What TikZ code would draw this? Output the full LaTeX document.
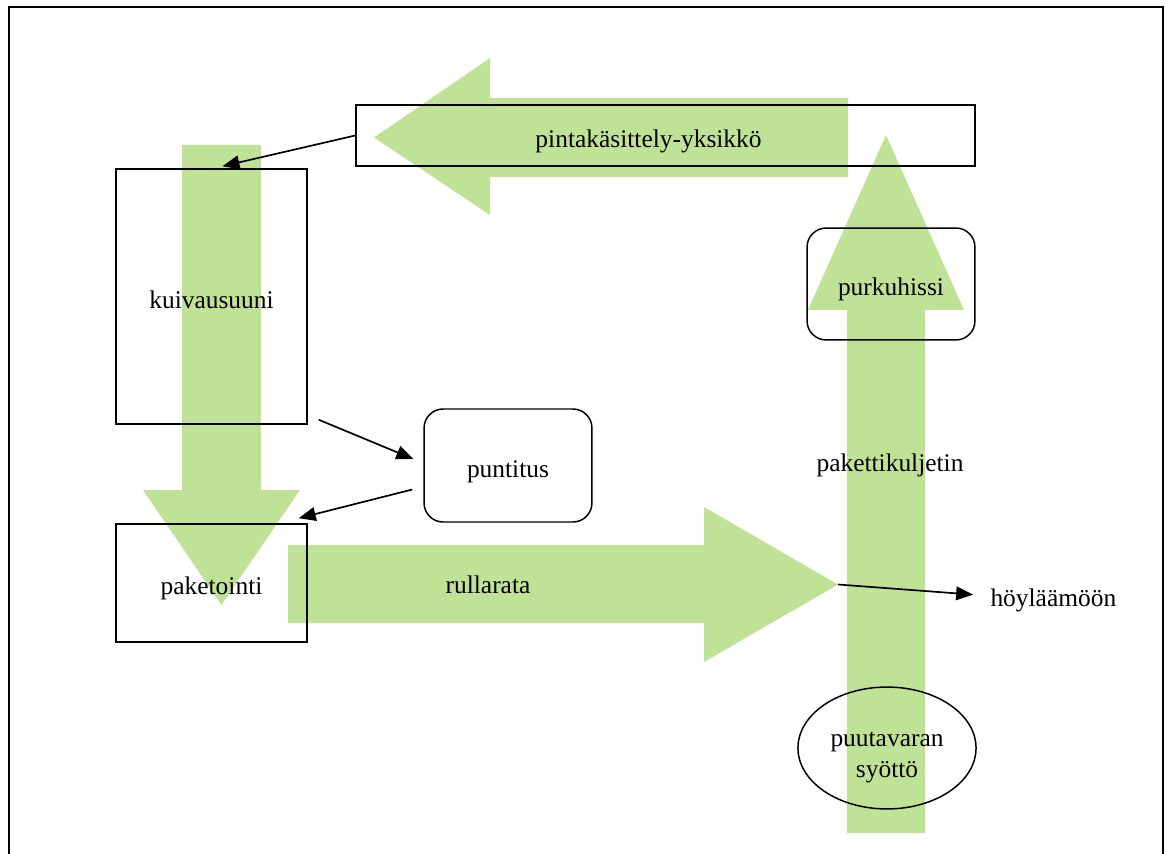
\documentclass[tikz,border=0pt]{standalone}
\usepackage{fontspec}
\setmainfont{Liberation Serif}
\usetikzlibrary{arrows.meta, shapes.geometric, calc}
\definecolor{beltgreen}{RGB}{192,226,151}
\tikzset{
  sawbox/.style={rectangle, draw=black, line width=0.7pt, align=center,
                 inner sep=0pt, text height=11pt, text depth=0pt,
                 font=\fontsize{12}{14.4}\selectfont},
  sawround/.style={sawbox, rounded corners=9pt},
  sawoval/.style={ellipse, draw=black, line width=0.7pt, align=center,
                  inner sep=0pt, font=\fontsize{12}{14.4}\selectfont},
  sawlabel/.style={anchor=base, font=\fontsize{12}{14.4}\selectfont},
  sawflow/.style={fill=beltgreen, draw=none},
  sawarrow/.style={-{Triangle[length=8pt,width=6.5pt]}, line width=0.8pt},
}

\begin{document}
\begin{tikzpicture}[x=0.4717pt, y=-0.4717pt]
    \useasboundingbox (0,0) rectangle (1168,854);
    % Kehys
    \draw[line width=0.7pt] (9,880) -- (9,7) -- (1163,7) -- (1163,880);
    % Vihreat nuolet
    \fill[sawflow] (848,98) -- (490,98) -- (490,58) -- (374,137.5) -- (490,215)
      -- (490,177) -- (848,177) -- cycle;
    \fill[sawflow] (182,145) -- (182,490) -- (143,490) -- (221.5,605) -- (300,490)
      -- (261,490) -- (261,145) -- cycle;
    \fill[sawflow] (288,545) -- (704,545) -- (704,507) -- (838,584.5) -- (704,662)
      -- (704,623) -- (288,623) -- cycle;
    \fill[sawflow] (847,833) -- (847,310) -- (808,310) -- (886,135) -- (964,310)
      -- (925,310) -- (925,833) -- cycle;
    \coordinate (rtip) at (838,584.5);
    % Laitteet
    \node[sawbox, minimum width=292pt, minimum height=28.8pt] (pinta) at (665.5,135.5)
      {pintakäsittely-yksikkö\hspace*{16pt}};
    \node[sawbox, minimum width=90.1pt, minimum height=120.3pt] (kuiv) at (211.5,296.5)
      {kuivausuuni};
    \node[sawbox, minimum width=90.1pt, minimum height=55.7pt] (paket) at (211.5,583)
      {paketointi};
    \node[sawround, minimum width=79.2pt, minimum height=53.3pt] (punt) at (508,465.5)
      {puntitus};
    \node[sawround, minimum width=79.2pt, minimum height=52.8pt] (purk) at (891,284)
      {purkuhissi};
    \node[sawoval, minimum width=84pt, minimum height=57.5pt] (syotto) at (887,748)
      {\raisebox{-4.5pt}[\height][\depth]{puutavaran}\\
       \raisebox{-4.5pt}[\height][\depth]{syöttö}};
    % Kuljettimet
    \node[sawlabel] (rulla) at (488,593) {rullarata};
    \node[sawlabel] (paketk) at (890,471.7) {pakettikuljetin};
    \node[sawlabel, anchor=base west] (hoyl) at (983,606.7) {höyläämöön};
    % Siirrot
    \draw[sawarrow] (pinta.west) -- ($(kuiv.north)+(11,-2)$);
    \draw[sawarrow] ($(kuiv.south east)+(11,-5)$) -- ($(punt.west)+(-10,-6.5)$);
    \draw[sawarrow] ($(punt.west)+(-11,24)$) -- ($(paket.north east)+(-9,-5)$);
    \draw[sawarrow, shorten >=4.7pt] (rtip) -- (hoyl);
\end{tikzpicture}
\end{document}
